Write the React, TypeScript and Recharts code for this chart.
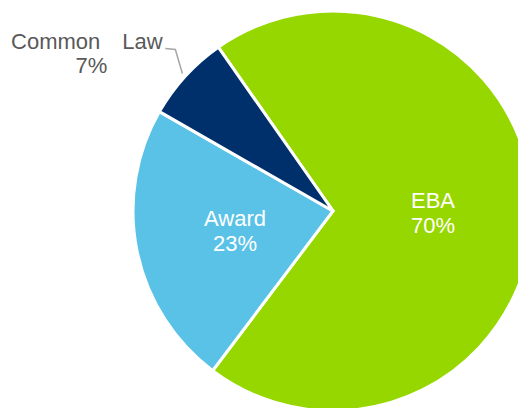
import { PieChart, Pie, Cell } from 'recharts'

const categories = ['EBA', 'Award', 'Common Law']
const shares = [70, 23, 7]
const sliceColors = ['#97D700', '#5BC2E7', '#00306B']

const data = categories.map((name, i) => ({ name, value: shares[i] }))

const RADIAN = Math.PI / 180
const FONT = 'Liberation Sans, Arial, sans-serif'

function renderLabel(props: any) {
  const { cx, cy, midAngle, outerRadius, name, value, index } = props
  if (index === 2) {
    // small slice: label sits outside with a bent leader line
    const r = outerRadius + 4
    const sx = cx + r * Math.cos(-midAngle * RADIAN)
    const sy = cy + r * Math.sin(-midAngle * RADIAN)
    const bx = sx - 7
    const by = sy - 24
    const ex = bx - 10
    const ey = by - 1
    const [first, second] = String(name).split(' ')
    return (
      <g>
        <polyline
          points={`${sx},${sy} ${bx},${by} ${ex},${ey}`}
          fill="none"
          stroke="#A6A6A6"
          strokeWidth={1.5}
        />
        <text x={ex - 65} y={ey + 1} textAnchor="end" fill="#595959" fontSize={22} fontFamily={FONT}>
          {first}
        </text>
        <text x={ex - 43} y={ey + 1} textAnchor="start" fill="#595959" fontSize={22} fontFamily={FONT}>
          {second}
        </text>
        <text x={ex - 74} y={ey + 25} textAnchor="middle" fill="#595959" fontSize={22} fontFamily={FONT}>
          {`${value}%`}
        </text>
      </g>
    )
  }
  const r = outerRadius * 0.5
  const x = cx + r * Math.cos(-midAngle * RADIAN)
  const y = cy + r * Math.sin(-midAngle * RADIAN)
  return (
    <text x={x} textAnchor="middle" fill="#FFFFFF" fontSize={22} fontFamily={FONT}>
      <tspan x={x} y={y - 5}>{name}</tspan>
      <tspan x={x} y={y + 20}>{`${value}%`}</tspan>
    </text>
  )
}

export default function App() {
  return (
    <div style={{ position: 'absolute', left: 0, top: 0, width: 518, height: 408, background: '#fff' }}>
      <PieChart width={518} height={408} margin={{ top: 0, right: 0, bottom: 0, left: 0 }}>
        <Pie
          data={data}
          dataKey="value"
          nameKey="name"
          cx={333}
          cy={211}
          outerRadius={200}
          startAngle={125}
          endAngle={-235}
          stroke="#FFFFFF"
          strokeWidth={3}
          label={renderLabel}
          labelLine={false}
          isAnimationActive={false}
        >
          {data.map((d, i) => (
            <Cell key={d.name} fill={sliceColors[i]} />
          ))}
        </Pie>
      </PieChart>
    </div>
  )
}
